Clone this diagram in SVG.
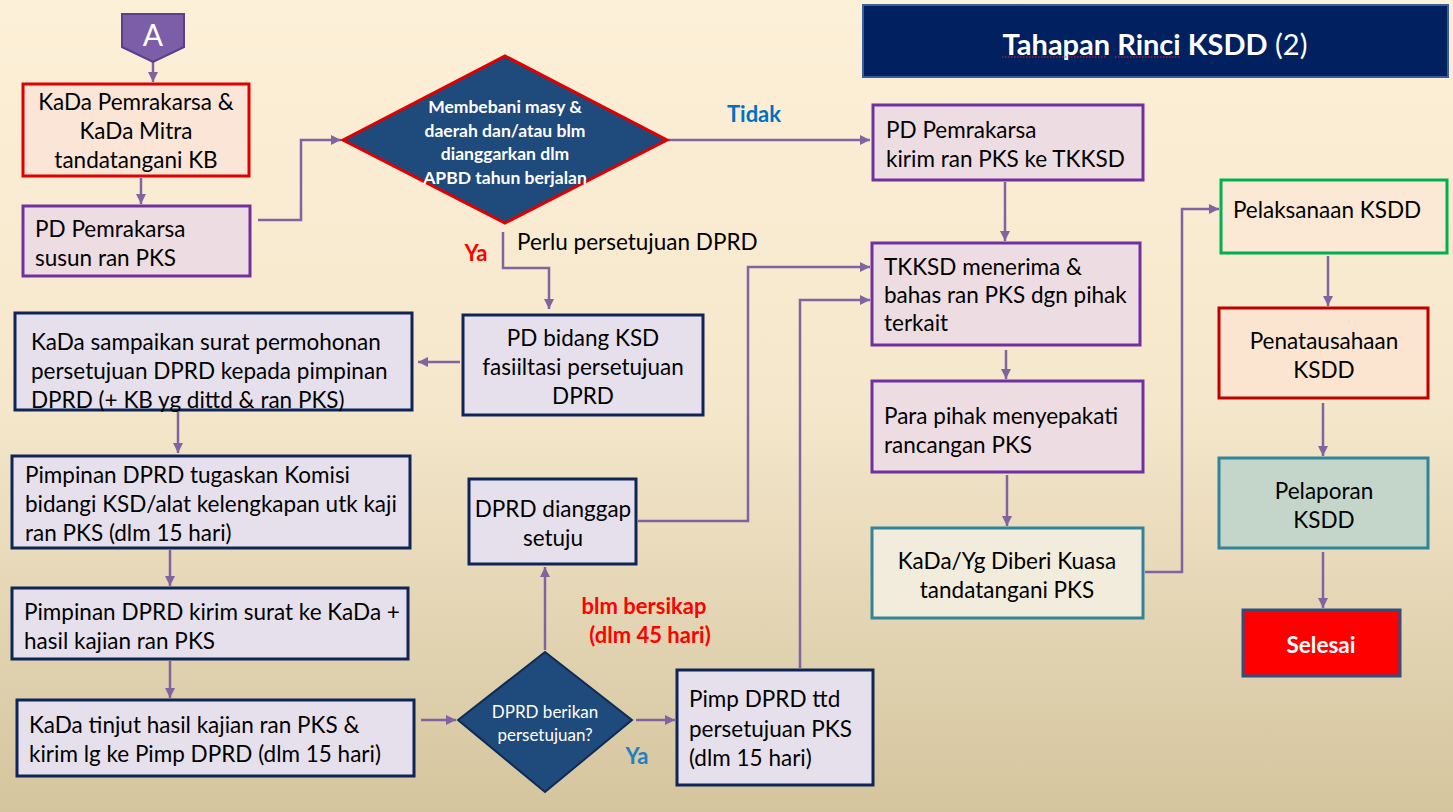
<svg xmlns="http://www.w3.org/2000/svg" width="1453" height="812" viewBox="0 0 1453 812">
<defs>
<linearGradient id="bg" x1="0" y1="0" x2="0" y2="1">
<stop offset="0" stop-color="#FDF0D8"/>
<stop offset="0.5" stop-color="#F4E7CB"/>
<stop offset="1" stop-color="#D4C59E"/>
</linearGradient>
<marker id="ah" viewBox="0 0 10 10" refX="10" refY="5" markerWidth="10" markerHeight="10" markerUnits="userSpaceOnUse" orient="auto">
<path d="M0,0 L10,5 L0,10 Z" fill="#8064A2"/>
</marker>
<style>
.t{font-family:Lato,"Liberation Sans",sans-serif;font-size:22.5px;fill:#000;dominant-baseline:central}
.c{text-anchor:middle}
.w{fill:#fff}
.dt{font-family:Lato,"Liberation Sans",sans-serif;font-size:17.5px;font-weight:bold;fill:#fff;text-anchor:middle;dominant-baseline:central}
.lbl{font-family:Lato,"Liberation Sans",sans-serif;font-weight:bold;font-size:22px;dominant-baseline:central;text-anchor:middle}
.pk{fill:#EDDCE2;stroke:#7030A0;stroke-width:3}
.nv{fill:#E6E0EC;stroke:#0F2557;stroke-width:3}
.cn{fill:none;stroke:#8064A2;stroke-width:2.5;marker-end:url(#ah)}
.sp{stroke:#E02020;stroke-width:1.2;stroke-dasharray:1.5 1.5;fill:none}
</style>
</defs>
<rect x="0" y="0" width="1453" height="812" fill="url(#bg)"/>

<g id="title">
<rect x="863" y="5" width="585" height="72" fill="#002060" stroke="#3A5E99" stroke-width="2"/>
<text x="1155" y="43" text-anchor="middle" dominant-baseline="central" font-family="Lato,'Liberation Sans',sans-serif" font-size="29" fill="#fff"><tspan font-weight="bold">Tahapan Rinci KSDD</tspan> (2)</text>
<line class="sp" x1="1002" y1="57" x2="1106" y2="57"/>
<line class="sp" x1="1115" y1="57" x2="1181" y2="57"/>
</g>

<g id="connectors">
<line class="cn" x1="153" y1="62" x2="153" y2="82"/>
<line class="cn" x1="141" y1="178" x2="141" y2="204"/>
<polyline class="cn" points="258,220 301,220 301,140 341,140"/>
<line class="cn" x1="668" y1="140" x2="870" y2="140"/>
<polyline class="cn" points="503,232 503,268 549,268 549,309"/>
<line class="cn" x1="460" y1="362" x2="418" y2="362"/>
<line class="cn" x1="178" y1="412" x2="178" y2="453"/>
<line class="cn" x1="170" y1="550" x2="170" y2="586"/>
<line class="cn" x1="170" y1="661" x2="170" y2="698"/>
<line class="cn" x1="421" y1="720" x2="456" y2="720"/>
<line class="cn" x1="636" y1="720" x2="675" y2="720"/>
<line class="cn" x1="545" y1="650" x2="545" y2="567"/>
<polyline class="cn" points="638,521 748,521 748,267 870,267"/>
<polyline class="cn" points="800,668 800,300 870,300"/>
<line class="cn" x1="1005" y1="182" x2="1005" y2="241"/>
<line class="cn" x1="1006" y1="350" x2="1006" y2="379"/>
<line class="cn" x1="1007" y1="475" x2="1007" y2="526"/>
<polyline class="cn" points="1145,572 1182,572 1182,209 1219,209"/>
<line class="cn" x1="1328" y1="256" x2="1328" y2="306"/>
<line class="cn" x1="1323" y1="403" x2="1323" y2="456"/>
<line class="cn" x1="1323" y1="552" x2="1323" y2="608"/>
</g>

<g id="labels">
<text class="lbl" x="754" y="113" fill="#0070C0">Tidak</text>
<text class="lbl" x="476" y="252" fill="#FF0000">Ya</text>
<text class="t" x="517" y="241">Perlu persetujuan DPRD</text>
<text class="lbl" x="644" y="605" fill="#FF0000">blm bersikap</text>
<text class="lbl" x="650" y="634" fill="#FF0000">(dlm 45 hari)</text>
<text class="lbl" x="637" y="755" fill="#1F80C0">Ya</text>
</g>

<g id="nodeA">
<path d="M122,14 H184 V47 L153,62 L122,47 Z" fill="#7B5EA7" stroke="#5A3F8A" stroke-width="2"/>
<text class="t c w" x="153" y="34" style="font-size:30px">A</text>
</g>

<g id="kadaKB">
<rect x="23" y="84" width="226" height="92" fill="#FBE5D6" stroke="#E00000" stroke-width="3"/>
<text class="t c" x="136" y="101">KaDa Pemrakarsa &amp;</text>
<text class="t c" x="136" y="130">KaDa Mitra</text>
<text class="t c" x="136" y="159">tandatangani KB</text>
</g>

<g id="pdSusun">
<rect class="pk" x="23" y="206" width="227" height="70"/>
<text class="t" x="35" y="228">PD Pemrakarsa</text>
<text class="t" x="35" y="257">susun ran PKS</text>
</g>

<g id="diamond1">
<path d="M343,140 L505,56 L667,140 L505,223 Z" fill="#1F4A7C" stroke="#E00000" stroke-width="3"/>
<text class="dt" x="505" y="106">Membebani masy &amp;</text>
<text class="dt" x="505" y="130">daerah dan/atau blm</text>
<text class="dt" x="505" y="153">dianggarkan dlm</text>
<text class="dt" x="505" y="177">APBD tahun berjalan</text>
</g>

<g id="pdKirim">
<rect class="pk" x="873" y="105" width="270" height="75"/>
<text class="t" x="886" y="129">PD Pemrakarsa</text>
<text class="t" x="886" y="158">kirim ran PKS ke TKKSD</text>
</g>

<g id="tkksd">
<rect class="pk" x="872" y="243" width="268" height="102"/>
<text class="t" x="884" y="266">TKKSD menerima &amp;</text>
<text class="t" x="884" y="294">bahas ran PKS dgn pihak</text>
<text class="t" x="884" y="322">terkait</text>
</g>

<g id="paraPihak">
<rect class="pk" x="872" y="381" width="271" height="91"/>
<text class="t" x="884" y="415">Para pihak menyepakati</text>
<text class="t" x="884" y="444">rancangan PKS</text>
</g>

<g id="kadaTtd">
<rect x="872" y="528" width="271" height="90" fill="#F2ECDC" stroke="#31849B" stroke-width="3"/>
<text class="t c" x="1007" y="560">KaDa/Yg Diberi Kuasa</text>
<text class="t c" x="1007" y="589">tandatangani PKS</text>
</g>

<g id="pelaksanaan">
<rect x="1221" y="180" width="226" height="73" fill="#FBE9D6" stroke="#00B050" stroke-width="3"/>
<text class="t c" x="1327" y="209">Pelaksanaan KSDD</text>
</g>

<g id="penatausahaan">
<rect x="1219" y="308" width="209" height="90" fill="#FBE5D0" stroke="#C00000" stroke-width="3"/>
<text class="t c" x="1324" y="340">Penatausahaan</text>
<text class="t c" x="1324" y="369">KSDD</text>
</g>

<g id="pelaporan">
<rect x="1219" y="458" width="209" height="90" fill="#C4D6CA" stroke="#31849B" stroke-width="3"/>
<text class="t c" x="1324" y="490">Pelaporan</text>
<text class="t c" x="1324" y="519">KSDD</text>
</g>

<g id="selesai">
<rect x="1243" y="610" width="157" height="66" fill="#FF0000" stroke="#2F4F7F" stroke-width="3"/>
<text class="t c w" x="1321" y="644" font-weight="bold">Selesai</text>
</g>

<g id="kadaSampaikan">
<rect class="nv" x="15" y="313" width="397" height="97"/>
<text class="t" x="31" y="341">KaDa sampaikan surat permohonan</text>
<text class="t" x="31" y="370">persetujuan DPRD kepada pimpinan</text>
<text class="t" x="31" y="399">DPRD (+ KB yg dittd &amp; ran PKS)</text>
</g>

<g id="pdBidang">
<rect class="nv" x="463" y="315" width="240" height="100"/>
<text class="t c" x="583" y="337">PD bidang KSD</text>
<text class="t c" x="583" y="366">fasiiltasi persetujuan</text>
<text class="t c" x="583" y="395">DPRD</text>
</g>

<g id="pimpinanTugaskan">
<rect class="nv" x="12" y="456" width="398" height="92"/>
<text class="t" x="25" y="474">Pimpinan DPRD tugaskan Komisi</text>
<text class="t" x="25" y="503">bidangi KSD/alat kelengkapan utk kaji</text>
<text class="t" x="25" y="532">ran PKS (dlm 15 hari)</text>
</g>

<g id="pimpinanKirim">
<rect class="nv" x="12" y="588" width="396" height="71"/>
<text class="t" x="24" y="611">Pimpinan DPRD kirim surat ke KaDa +</text>
<text class="t" x="24" y="640">hasil kajian ran PKS</text>
</g>

<g id="kadaTinjut">
<rect class="nv" x="17" y="700" width="397" height="76"/>
<text class="t" x="29" y="724">KaDa tinjut hasil kajian ran PKS &amp;</text>
<text class="t" x="29" y="753">kirim lg ke Pimp DPRD (dlm 15 hari)</text>
</g>

<g id="diamond2">
<path d="M458,720 L545,652 L632,720 L545,792 Z" fill="#1F4A7C" stroke="#0F2B55" stroke-width="2"/>
<text class="dt" x="545" y="711" style="font-weight:normal;font-size:17px">DPRD berikan</text>
<text class="dt" x="545" y="734" style="font-weight:normal;font-size:17px">persetujuan?</text>
</g>

<g id="dprdSetuju">
<rect class="nv" x="469" y="479" width="167" height="85"/>
<text class="t c" x="553" y="508">DPRD dianggap</text>
<text class="t c" x="553" y="537">setuju</text>
</g>

<g id="pimpTtd">
<rect class="nv" x="677" y="670" width="196" height="115"/>
<text class="t" x="689" y="698">Pimp DPRD ttd</text>
<text class="t" x="689" y="728">persetujuan PKS</text>
<text class="t" x="689" y="757">(dlm 15 hari)</text>
</g>
</svg>
